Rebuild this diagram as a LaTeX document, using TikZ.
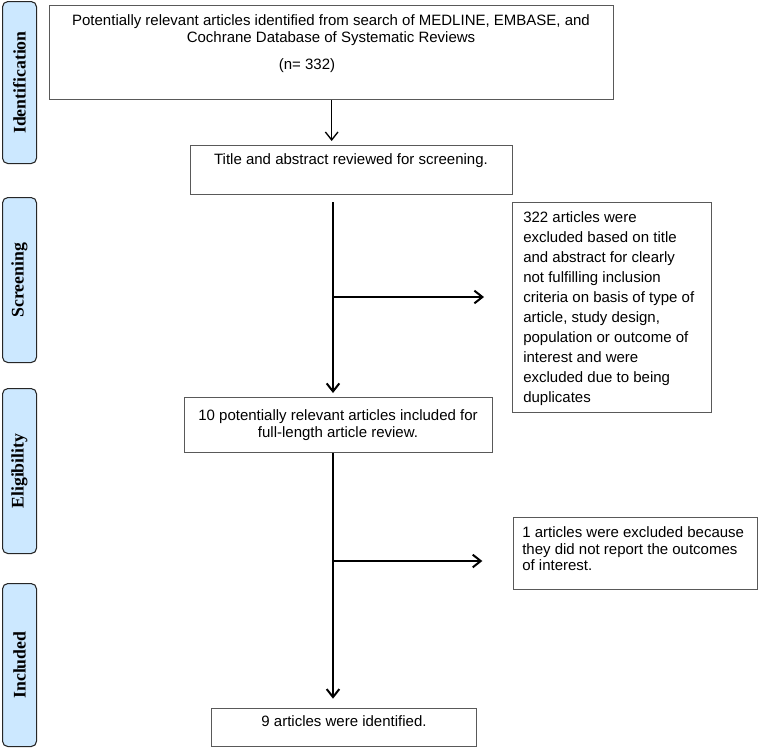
\documentclass[tikz,border=0pt]{standalone}
\usepackage{fontspec}
\setmainfont{Liberation Sans}
\newfontfamily\stagefont{Liberation Serif}
\usetikzlibrary{arrows.meta}

\definecolor{stageblue}{HTML}{CCE8FF}
\tikzset{
  stagebox/.style={draw=black!85, line width=0.8pt, fill=stageblue, rounded corners=4pt, inner sep=0pt, minimum width=25.5pt, anchor=north west},
  stagetext/.style={rotate=90, font=\stagefont\bfseries\fontsize{13.3}{15}\selectfont},
  flowbox/.style={draw=black!65, line width=1pt, inner sep=0pt, anchor=north west},
  flowtext/.style={font=\fontsize{11.25}{13}\selectfont, inner sep=0pt, align=center},
  sidetext/.style={font=\fontsize{11.25}{15}\selectfont, inner sep=0pt, align=left, anchor=north west},
  flowarrow/.style={line width=1.5pt, -{Straight Barb[length=6pt,width=9.5pt]}},
  thinarrow/.style={line width=1pt, -{Straight Barb[length=6pt,width=9.5pt]}},
}

\begin{document}
\begin{tikzpicture}[x=0.75pt,y=-0.75pt]
\useasboundingbox (0,0) rectangle (762,747);

% stages
\node[stagebox, minimum height=121.5pt] (ident) at (2,1) {};
\node[stagebox, minimum height=123.75pt] (screening) at (2,197) {};
\node[stagebox, minimum height=123.75pt] (eligibility) at (2,388) {};
\node[stagebox, minimum height=122.25pt] (included) at (2,583) {};
\node[stagetext] (ident-t) at (ident.center) {Identification};
\node[stagetext] (screening-t) at (screening.center) {Screening};
\node[stagetext] (eligibility-t) at (eligibility.center) {Eligibility};
\node[stagetext] (included-t) at (included.center) {Included};

% boxes
\node[flowbox, minimum width=423pt, minimum height=70.5pt] (search) at (49,5) {};
\node[flowtext, anchor=north] (search-t) at (331,14)
  {Potentially relevant articles identified from search of MEDLINE, EMBASE, and\\
   Cochrane Database of Systematic Reviews};
\node[flowtext] (search-n) at (307,66) {(n= 332)};

\node[flowbox, minimum width=241.5pt, minimum height=36.75pt] (screen) at (190,145) {};
\node[flowtext] (screen-t) at (351,161) {Title and abstract reviewed for screening.};

\node[flowbox, minimum width=149.25pt, minimum height=157.5pt] (excl1) at (512,202) {};
\node[sidetext] (excl1-t) at (523,211.5)
  {322 articles were\\excluded based on title\\and abstract for clearly\\not fulfilling inclusion\\
   criteria on basis of type of\\article, study design,\\population or outcome of\\
   interest and were\\excluded due to being\\duplicates};

\node[flowbox, minimum width=231pt, minimum height=41.25pt] (elig) at (184,397) {};
\node[flowtext, anchor=north, font=\fontsize{11.25}{13}\selectfont] (elig-t) at (338,409.5)
  {10 potentially relevant articles included for\\full-length article review.};

\node[flowbox, minimum width=183pt, minimum height=54pt] (excl2) at (513,517) {};
\node[sidetext, font=\fontsize{11.25}{12.4}\selectfont] (excl2-t) at (522,526.5)
  {1 articles were excluded because\\they did not report the outcomes\\of interest.};

\node[flowbox, minimum width=198.75pt, minimum height=28.5pt] (final) at (211,708) {};
\node[flowtext] (final-t) at (344,721) {9 articles were identified.};

% arrows
\coordinate (split1) at (333,297);
\coordinate (split2) at (333,561);
\draw[thinarrow, shorten >=3pt] (search.south) -- (search.south |- screen.north);
\draw[flowarrow, shorten >=3pt] ([yshift=-5pt]screen.south -| split1) -- (split1 |- elig.north);
\draw[flowarrow, shorten >=21pt] (split1) -- (split1 -| excl1.west);
\draw[flowarrow, shorten >=7pt] (elig.south -| split2) -- (split2 |- final.north);
\draw[flowarrow, shorten >=23pt] (split2) -- (split2 -| excl2.west);

\end{tikzpicture}
\end{document}
